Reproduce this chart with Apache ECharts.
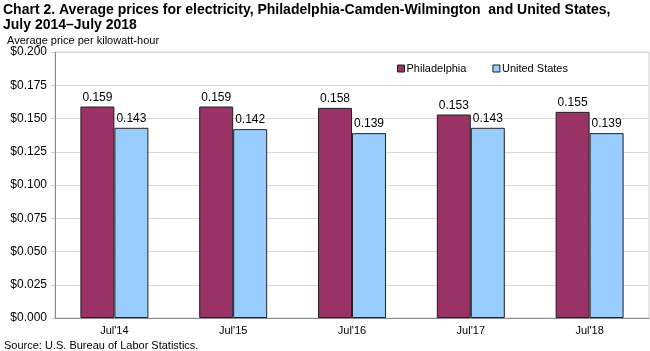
<!DOCTYPE html>
<html>
<head>
<meta charset="utf-8">
<script src="https://cdn.jsdelivr.net/npm/echarts@6/dist/echarts.min.js"></script>
<style>
    html, body { margin:0; padding:0; background:#fff; }
    #chart { width:650px; height:351px; }
</style>
</head>
<body>
<div id="chart"></div>
<script>
const categories = ["Jul'14", "Jul'15", "Jul'16", "Jul'17", "Jul'18"];
const philadelphia = [0.159, 0.159, 0.158, 0.153, 0.155];
const unitedStates = [0.143, 0.142, 0.139, 0.143, 0.139];
const colors = ['#993366', '#99ccff'];
const font = 'Arial, "Liberation Sans", sans-serif';

let myChart = echarts.init(document.getElementById('chart'));

const labelStyle = {
    show: true,
    position: 'top',
    distance: 3,
    fontFamily: font,
    fontSize: 12,
    color: '#000',
    formatter: p => p.value.toFixed(3)
};

let option = {
    animation: false,
    color: colors,
    textStyle: { fontFamily: font },
    title: [
        {
            text: 'Chart 2. Average prices for electricity, Philadelphia-Camden-Wilmington  and United States,\nJuly 2014\u2013July 2018',
            left: 3,
            top: 3,
            padding: 0,
            textStyle: { fontFamily: font, fontSize: 14, fontWeight: 'bold', color: '#000', lineHeight: 15 }
        },
        {
            text: 'Average price per kilowatt-hour',
            left: 7,
            top: 35,
            padding: 0,
            textStyle: { fontFamily: font, fontSize: 11, fontWeight: 'normal', color: '#000' }
        },
        {
            text: 'Source: U.S. Bureau of Labor Statistics.',
            left: 4,
            top: 340,
            padding: 0,
            textStyle: { fontFamily: font, fontSize: 11, fontWeight: 'normal', color: '#000' }
        }
    ],
    legend: {
        data: ['Philadelphia', 'United States'],
        left: 392,
        top: 58,
        itemWidth: 7,
        itemHeight: 7,
        itemGap: 26,
        icon: 'rect',
        itemStyle: { borderColor: '#222', borderWidth: 1 },
        textStyle: { fontFamily: font, fontSize: 11, color: '#000', padding: [0, 0, 0, -3] }
    },
    grid: {
        top: 52,
        left: 55,
        right: 1,
        bottom: 33,
        show: true,
        borderColor: '#cfcfcf',
        borderWidth: 1
    },
    xAxis: {
        type: 'category',
        data: categories,
        axisLine: { lineStyle: { color: '#8c8c8c' } },
        axisTick: { show: false },
        axisLabel: { fontFamily: font, fontSize: 11, color: '#000', margin: 7 }
    },
    yAxis: {
        type: 'value',
        min: 0,
        max: 0.2,
        interval: 0.025,
        axisLine: { show: true, lineStyle: { color: '#8c8c8c' } },
        axisTick: { show: true, length: 4, lineStyle: { color: '#cfcfcf' } },
        axisLabel: {
            fontFamily: font, fontSize: 12, color: '#000', margin: 8,
            formatter: v => '$' + v.toFixed(3)
        },
        splitLine: { show: true, lineStyle: { color: '#d9d9d9' } }
    },
    series: [
        {
            type: 'bar',
            name: 'Philadelphia',
            data: philadelphia,
            barWidth: 34,
            barGap: '0%',
            itemStyle: { borderColor: '#222', borderWidth: 1 },
            label: labelStyle
        },
        {
            type: 'bar',
            name: 'United States',
            data: unitedStates,
            barWidth: 34,
            barGap: '0%',
            itemStyle: { borderColor: '#222', borderWidth: 1 },
            label: labelStyle
        }
    ]
};
myChart.setOption(option);
</script>
</body>
</html>
